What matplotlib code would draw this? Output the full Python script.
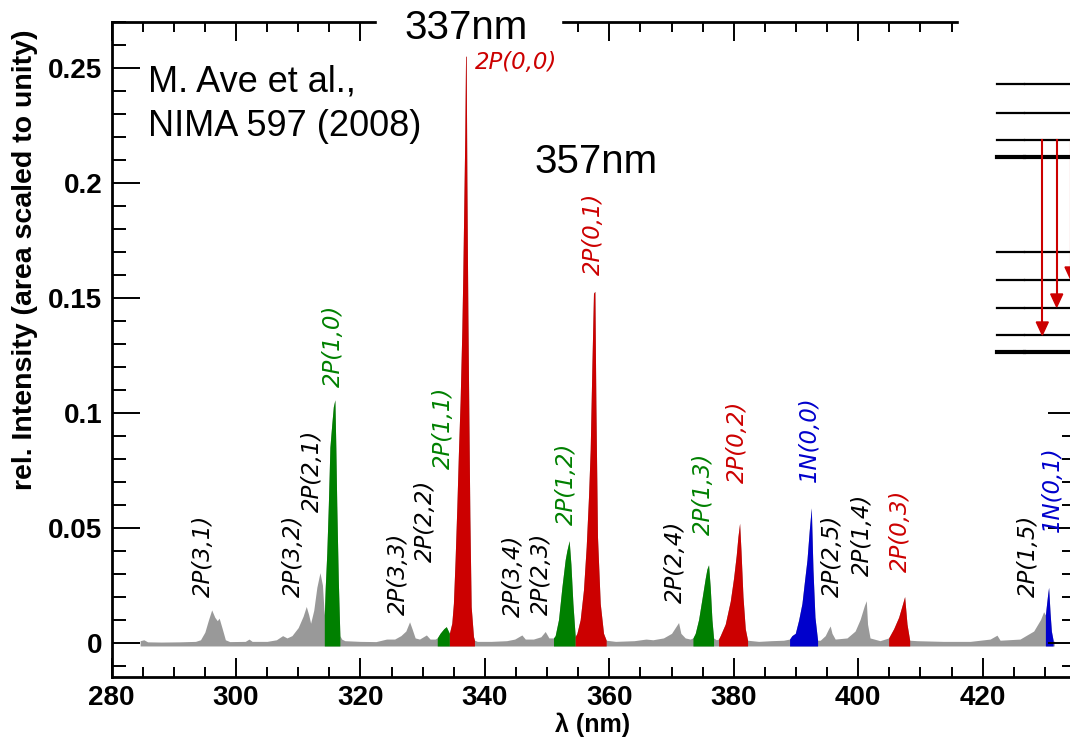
import matplotlib
matplotlib.use("Agg")
import matplotlib.pyplot as plt
import numpy as np
from matplotlib.ticker import MultipleLocator, FuncFormatter
from matplotlib.lines import Line2D
from matplotlib.patches import Rectangle, Polygon

plt.rcParams["font.family"] = ["Liberation Sans", "DejaVu Sans"]
plt.rcParams["font.weight"] = "bold"

# spectrum (nm, rel. intensity)
wavelength = [
    284.6, 285.2, 285.8, 288.0, 291.0, 293.5, 294.3, 295.0, 295.6, 296.1,
    296.6, 297.0, 297.3, 297.8, 298.3, 299.0, 301.5, 302.1, 302.6, 305.0,
    306.5, 307.5, 308.2, 309.0, 310.0, 310.8, 311.3, 311.7, 312.0, 312.5,
    313.0, 313.5, 313.9, 314.2, 314.35, 314.6, 314.85, 315.1, 315.4, 315.65,
    315.9, 316.05, 316.2, 316.45, 316.7, 317.0, 317.5, 320.0, 322.5, 324.2,
    325.5, 326.5, 327.3, 327.9, 328.3, 328.8, 329.5, 330.6, 331.2, 332.0,
    332.35, 332.8, 333.4, 333.8, 334.3, 334.69, 334.95, 335.22, 335.5, 335.75,
    336.03, 336.3, 336.46, 336.62, 336.78, 336.9, 337.0, 337.11, 337.27, 337.43,
    337.59, 337.8, 338.17, 338.33, 338.8, 341.0, 343.5, 344.8, 345.95, 346.5,
    347.8, 349.0, 349.7, 350.3, 351.03, 351.3, 351.84, 352.38, 352.91, 353.18,
    353.55, 353.83, 354.15, 354.52, 354.79, 355.32, 355.85, 356.29, 356.66, 356.93,
    357.2, 357.46, 357.68, 357.84, 358.1, 358.54, 359.07, 359.5, 361.0, 364.0,
    365.9, 367.0, 368.7, 370.0, 370.6, 371.13, 371.5, 372.2, 373.0, 373.44,
    373.81, 374.35, 374.89, 375.42, 375.69, 375.95, 376.22, 376.49, 376.75, 377.2,
    377.56, 377.83, 378.63, 379.44, 379.97, 380.4, 380.67, 380.94, 381.16, 381.48,
    381.85, 382.22, 384.0, 386.0, 388.0, 388.97, 389.35, 389.89, 390.42, 390.96,
    391.38, 391.77, 392.14, 392.46, 392.73, 393.05, 393.47, 393.9, 394.7, 395.24,
    395.5, 395.79, 396.3, 398.2, 399.5, 400.3, 400.98, 401.3, 401.5, 401.9,
    403.5, 404.89, 405.7, 406.5, 407.04, 407.46, 407.84, 408.27, 409.45, 413.7,
    418.0, 421.2, 422.3, 422.8, 426.0, 428.2, 429.3, 429.8, 430.08, 430.24,
    430.45, 430.6, 430.83, 431.04, 431.32, 431.5,
]
intensity = [
    0.0008, 0.0012, 0.0003, 0.0002, 0.0003, 0.0005, 0.0012, 0.0045, 0.0100, 0.0142,
    0.0110, 0.0095, 0.0106, 0.0060, 0.0012, 0.0004, 0.0005, 0.0015, 0.0005, 0.0005,
    0.0012, 0.0030, 0.0020, 0.0030, 0.0065, 0.0115, 0.0157, 0.0120, 0.0084, 0.0140,
    0.0240, 0.0304, 0.0250, 0.0120, 0.0240, 0.0390, 0.0600, 0.0850, 0.0950, 0.1026,
    0.1056, 0.0850, 0.0600, 0.0270, 0.0030, 0.0015, 0.0008, 0.0005, 0.0004, 0.0015,
    0.0015, 0.0030, 0.0050, 0.0090, 0.0060, 0.0020, 0.0015, 0.0033, 0.0015, 0.0015,
    0.0020, 0.0040, 0.0060, 0.0069, 0.0040, 0.0084, 0.0171, 0.0359, 0.0590, 0.0822,
    0.1053, 0.1357, 0.1603, 0.1907, 0.2211, 0.2551, 0.2551, 0.2008, 0.1430, 0.0981,
    0.0547, 0.0156, 0.0026, 0.0010, 0.0005, 0.0005, 0.0008, 0.0015, 0.0033, 0.0015,
    0.0015, 0.0025, 0.0048, 0.0020, 0.0020, 0.0030, 0.0100, 0.0240, 0.0360, 0.0400,
    0.0443, 0.0340, 0.0170, 0.0026, 0.0040, 0.0099, 0.0229, 0.0417, 0.0635, 0.0838,
    0.1200, 0.1520, 0.1528, 0.1040, 0.0460, 0.0170, 0.0040, 0.0010, 0.0005, 0.0008,
    0.0015, 0.0012, 0.0020, 0.0040, 0.0065, 0.0087, 0.0040, 0.0020, 0.0015, 0.0020,
    0.0040, 0.0100, 0.0190, 0.0280, 0.0320, 0.0338, 0.0240, 0.0100, 0.0020, 0.0012,
    0.0015, 0.0030, 0.0080, 0.0180, 0.0280, 0.0380, 0.0460, 0.0519, 0.0400, 0.0200,
    0.0060, 0.0010, 0.0005, 0.0008, 0.0010, 0.0015, 0.0030, 0.0040, 0.0097, 0.0170,
    0.0270, 0.0360, 0.0490, 0.0586, 0.0317, 0.0110, 0.0010, 0.0010, 0.0030, 0.0060,
    0.0072, 0.0040, 0.0015, 0.0020, 0.0050, 0.0100, 0.0160, 0.0182, 0.0080, 0.0020,
    0.0008, 0.0020, 0.0060, 0.0110, 0.0160, 0.0200, 0.0080, 0.0010, 0.0008, 0.0005,
    0.0005, 0.0015, 0.0032, 0.0010, 0.0015, 0.0050, 0.0100, 0.0134, 0.0120, 0.0160,
    0.0210, 0.0240, 0.0130, 0.0050, 0.0010, 0.0005,
]

# coloured bands (start nm, end nm, colour)
band_start = [314.2, 332.35, 334.3, 351.03, 354.52, 373.44, 377.56, 388.97, 404.89, 430.08]
band_end = [316.7, 334.3, 338.33, 354.52, 359.5, 376.75, 382.22, 393.47, 408.27, 431.32]
band_color = ["#008000", "#008000", "#cc0000", "#008000", "#cc0000",
              "#008000", "#cc0000", "#0000cc", "#cc0000", "#0000cc"]

# transition labels
label_text = ["2P(3,1)", "2P(3,2)", "2P(2,1)", "2P(1,0)", "2P(3,3)", "2P(2,2)",
              "2P(1,1)", "2P(3,4)", "2P(2,3)", "2P(1,2)", "2P(0,1)", "2P(2,4)",
              "2P(1,3)", "2P(0,2)", "1N(0,0)", "2P(2,5)", "2P(1,4)", "2P(0,3)",
              "2P(1,5)", "1N(0,1)"]
label_x = [294.7, 309.2, 312.35, 315.66, 326.1, 330.4, 333.35, 344.6, 349.16, 353.18,
           357.5, 370.6, 375.15, 380.6, 392.2, 395.8, 400.6, 406.8, 427.4, 431.2]
label_y = [0.020, 0.020, 0.0569, 0.111, 0.012, 0.0352, 0.0757, 0.0113, 0.012, 0.0511,
           0.160, 0.0171, 0.0467, 0.0692, 0.070, 0.020, 0.029, 0.0308, 0.020, 0.048]
label_color = ["black", "black", "black", "#008000", "black", "black", "#008000",
               "black", "black", "#008000", "#cc0000", "black", "#008000", "#cc0000",
               "#0000cc", "black", "black", "#cc0000", "black", "#0000cc"]

W, H = 1070, 742


def fx(px):
    return px / W


def fy(py):
    return 1 - py / H


fig = plt.figure(figsize=(W / 100, H / 100), dpi=100)
ax = fig.add_axes([fx(111.5), fy(677), fx(1076) - fx(111.5), fy(22) - fy(677)])

wl = np.array(wavelength)
it = np.array(intensity)
base = -0.0015
ax.fill_between(wl, base, it, color="#999999", lw=0)
for s, e, c in zip(band_start, band_end, band_color):
    m = (wl >= s - 1e-9) & (wl <= e + 1e-9)
    ax.fill_between(wl[m], base, it[m], color=c, lw=0)

lab = dict(family="DejaVu Sans", fontweight="normal", fontsize=16.5, style="oblique")
for t, x, y, c in zip(label_text, label_x, label_y, label_color):
    ax.text(x, y, t, rotation=90, ha="center", va="bottom", color=c, **lab)
ax.text(338.45, 0.2525, "2P(0,0)", ha="left", va="center", color="#cc0000", **lab)

ax.set_xlim(280, 435)
ax.set_ylim(-0.015, 0.27)
ax.xaxis.set_major_locator(MultipleLocator(20))
ax.xaxis.set_minor_locator(MultipleLocator(5))
ax.yaxis.set_major_locator(MultipleLocator(0.05))
ax.yaxis.set_minor_locator(MultipleLocator(0.01))
ax.yaxis.set_major_formatter(FuncFormatter(lambda v, p: "%g" % round(v, 3)))
ax.tick_params(which="both", direction="in", top=True, right=True, width=1.4,
               labelsize=20)
ax.tick_params(axis="y", which="major", length=20.5, pad=6.5)
ax.tick_params(axis="y", which="minor", length=10)
ax.tick_params(axis="x", which="major", length=14, pad=6)
ax.tick_params(axis="x", which="minor", length=7)
for sp in ax.spines.values():
    sp.set_linewidth(2)

fig.text(fx(25), fy(260), "rel. Intensity (area scaled to unity)", rotation=90,
         ha="center", va="center", fontsize=20.5)
fig.text(fx(593), fy(725), "λ (nm)", ha="center", va="center", fontsize=18)

# white patches hiding parts of the frame, as in the slide
fig.patches.append(Rectangle((fx(377), fy(42)), fx(561) - fx(377), fy(0) - fy(42),
                             transform=fig.transFigure, color="white", zorder=2))
fig.patches.append(Rectangle((fx(958.7), fy(400)), fx(1080) - fx(958.7), fy(0) - fy(400),
                             transform=fig.transFigure, color="white", zorder=2))

big = dict(fontweight="normal", fontsize=29, zorder=5)
fig.text(fx(466), fy(39), "337nm", ha="center", va="baseline", **big)
fig.text(fx(596), fy(173), "357nm", ha="center", va="baseline", **big)
note = dict(fontweight="normal", fontsize=26, ha="left", va="baseline")
fig.text(fx(148), fy(91), "M. Ave et al.,", **note)
fig.text(fx(148), fy(136), "NIMA 597 (2008)", **note)

# level scheme on the right
levels = [84.3, 113.3, 140, 156.7, 251.7, 280, 308.3, 335, 351.7]
thick = [False, False, False, True, False, False, False, False, True]
for yl, tk in zip(levels, thick):
    for x0, x1 in [(997, 1023.5), (1025, 1072)]:
        fig.add_artist(Line2D([fx(x0), fx(x1)], [fy(yl), fy(yl)], transform=fig.transFigure,
                              color="black", lw=3.0 if tk else 1.6, zorder=6))
for xa, ytip in [(1042.3, 335), (1056.7, 307), (1071, 280)]:
    fig.add_artist(Line2D([fx(xa), fx(xa)], [fy(140), fy(ytip - 10)], transform=fig.transFigure,
                          color="#cc0000", lw=1.5, zorder=7))
    fig.patches.append(Polygon([[fx(xa - 6), fy(ytip - 13)], [fx(xa + 6), fy(ytip - 13)],
                                [fx(xa), fy(ytip)]], closed=True, transform=fig.transFigure,
                               color="#cc0000", zorder=7))

fig.savefig("out.png", dpi=100)
